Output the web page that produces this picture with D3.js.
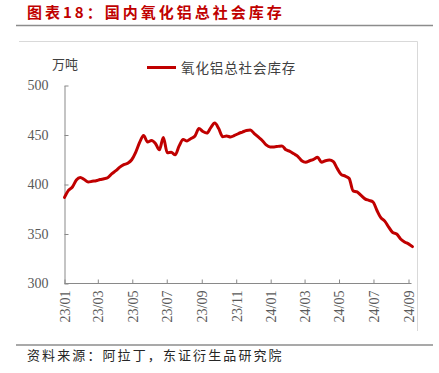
<!DOCTYPE html>
<html lang="zh">
<head>
  <meta charset="UTF-8" />
  <script src="https://d3js.org/d3.v7.min.js"></script>
  <title>国内氧化铝总社会库存</title>
  <style>
    body { margin: 0; background: #fff; }
  </style>
</head>
<body>
  <div id="chart"></div>
  <script>
    // weekly stock, 万吨, first week starting 2023-01-01
    const startDate = "2023-01-01";
    const stockValues = [
      387, 394, 397.5, 404.5, 407, 405, 402.5, 403.3, 403.8, 405,
      405.8, 407, 411, 414, 417.5, 420, 421.5, 425, 432.5, 442.5,
      449.5, 443, 444.5, 441.5, 435, 447.5, 432, 432.5, 430, 439,
      445.5, 444, 446.5, 449, 456.5, 453.5, 452, 457.5, 462, 456.5,
      448.3, 449, 448, 449.5, 451.5, 453, 454.5, 455, 451.5, 448,
      444.5, 440, 438, 438, 438.5, 439, 435, 433.5, 431, 428.5,
      424, 422.5, 424, 425.5, 427.5, 422.5, 424, 424.7, 423, 416,
      410, 408.5, 406, 393.5, 392.5, 389, 385.5, 384, 382.5, 374,
      366.5, 363, 357, 351.5, 350, 345, 342, 340, 337.2
    ];
    const yTicks = [300, 350, 400, 450, 500];
    const xTickLabels = ["23/01", "23/03", "23/05", "23/07", "23/09", "23/11",
                         "24/01", "24/03", "24/05", "24/07", "24/09"];
    const seriesName = "氧化铝总社会库存";

    const width = 439, height = 373;
    const red = "#c00000";
    const serif = "'Liberation Serif', 'Times New Roman', serif";
    const cjk = "'Noto Sans CJK SC', sans-serif";

    const parse = d3.timeParse("%Y-%m-%d");
    const t0 = parse(startDate);
    const data = stockValues.map((v, i) => ({ date: d3.timeDay.offset(t0, i * 7), value: v }));
    const tickDates = xTickLabels.map(s => d3.timeParse("%y/%m")(s));

    const svg = d3.select("#chart")
      .append("svg")
      .attr("width", width)
      .attr("height", height);

    // title + rules
    svg.append("text")
      .attr("x", 27)
      .attr("y", 18)
      .attr("fill", red)
      .attr("font-family", cjk)
      .attr("font-weight", "bold")
      .attr("font-size", "15px")
      .attr("letter-spacing", "3px")
      .text("图表18：国内氧化铝总社会库存");

    svg.append("line")
      .attr("x1", 16).attr("x2", 433)
      .attr("y1", 25.5).attr("y2", 25.5)
      .attr("stroke", "#8c8c8c")
      .attr("stroke-width", 1.5);

    svg.append("line")
      .attr("x1", 16).attr("x2", 433)
      .attr("y1", 345).attr("y2", 345)
      .attr("stroke", "#8c8c8c")
      .attr("stroke-width", 1.5);

    // light chart frame (top + right)
    svg.append("path")
      .attr("d", "M19,41.5H417.5V331")
      .attr("fill", "none")
      .attr("stroke", "#d9d9d9");

    const x = d3.scaleTime()
      .domain([parse("2023-01-01"), parse("2024-09-01")])
      .range([64.5, 408.5]);

    const y = d3.scaleLinear()
      .domain([300, 500])
      .range([283.5, 85.5]);

    // y axis
    const yAxis = svg.append("g")
      .attr("transform", "translate(64.5,0)")
      .call(d3.axisLeft(y).tickValues(yTicks).tickSizeInner(-4).tickSizeOuter(0).tickPadding(16));
    yAxis.select(".domain").attr("stroke", "#898989");
    yAxis.selectAll(".tick line").attr("stroke", "#898989");
    yAxis.selectAll("text")
      .attr("font-family", serif)
      .attr("font-size", "14px")
      .attr("fill", "#595959");

    // x axis
    const xAxis = svg.append("g")
      .attr("transform", "translate(0,283.5)")
      .call(d3.axisBottom(x).tickValues(tickDates).tickSizeInner(-4).tickSizeOuter(0)
        .tickFormat(d3.timeFormat("%y/%m")));
    xAxis.select(".domain").attr("stroke", "#898989").attr("d", "M64.5,0H411.5");
    xAxis.selectAll(".tick line").attr("stroke", "#898989");
    xAxis.selectAll("text")
      .attr("font-family", serif)
      .attr("font-size", "14px")
      .attr("fill", "#595959")
      .attr("transform", "rotate(-90)")
      .attr("text-anchor", "end")
      .attr("dy", "0.35em")
      .attr("x", -7)
      .attr("y", 0);

    // unit
    svg.append("text")
      .attr("x", 52)
      .attr("y", 69)
      .attr("font-family", cjk)
      .attr("font-size", "13px")
      .attr("fill", "#404040")
      .text("万吨");

    // series
    svg.append("path")
      .datum(data)
      .attr("fill", "none")
      .attr("stroke", red)
      .attr("stroke-width", 3)
      .attr("stroke-linejoin", "round")
      .attr("stroke-linecap", "round")
      .attr("d", d3.line()
        .x(d => x(d.date))
        .y(d => y(d.value))
        .curve(d3.curveMonotoneX));

    // legend
    svg.append("line")
      .attr("x1", 147).attr("x2", 176)
      .attr("y1", 67.5).attr("y2", 67.5)
      .attr("stroke", red)
      .attr("stroke-width", 3);

    svg.append("text")
      .attr("x", 181)
      .attr("y", 72.5)
      .attr("font-family", cjk)
      .attr("font-size", "13.5px")
      .attr("letter-spacing", "0.9px")
      .attr("fill", "#404040")
      .text(seriesName);

    // source
    svg.append("text")
      .attr("x", 27)
      .attr("y", 360)
      .attr("font-family", cjk)
      .attr("font-size", "13px")
      .attr("letter-spacing", "2.1px")
      .attr("fill", "#262626")
      .text("资料来源：阿拉丁，东证衍生品研究院");
  </script>
</body>
</html>
